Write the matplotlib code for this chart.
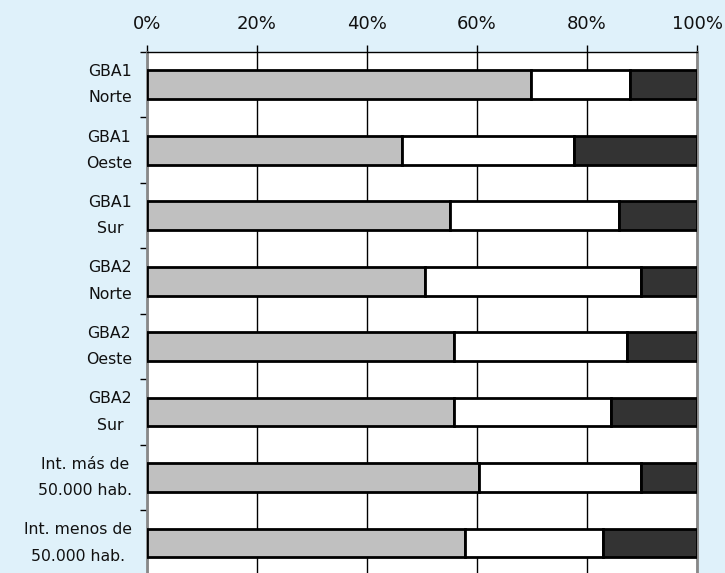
#!/usr/bin/env python3
"""Barras apiladas al 100% por región (réplica del gráfico de referencia)."""
import matplotlib
matplotlib.use("Agg")
import matplotlib.pyplot as plt
import numpy as np

# Datos (porcentajes por segmento)
categorias = [
    "GBA1\nNorte",
    "GBA1\nOeste",
    "GBA1\nSur",
    "GBA2\nNorte",
    "GBA2\nOeste",
    "GBA2\nSur",
    "Int. más de\n50.000 hab.",
    "Int. menos de\n50.000 hab.",
]
gris = [69.8, 46.3, 55.0, 50.5, 55.9, 55.9, 60.3, 57.8]
blanco = [18.0, 31.4, 30.9, 39.4, 31.4, 28.5, 29.6, 25.1]
oscuro = [12.2, 22.3, 14.1, 10.1, 12.7, 15.6, 10.1, 17.1]
ticks_x = [0, 20, 40, 60, 80, 100]

FONDO = "#dff1fa"

fig = plt.figure(figsize=(7.25, 5.73), dpi=100, facecolor=FONDO)
ax = fig.add_axes([0.2028, -0.0048, 0.7586, 0.914])
ax.set_facecolor("white")

y = np.arange(len(categorias))
alto = 0.44
izq = np.zeros(len(categorias))
for vals, color in [(gris, "#c0c0c0"), (blanco, "white"), (oscuro, "#333333")]:
    ax.barh(y, vals, left=izq, height=alto, color=color,
            edgecolor="black", linewidth=2.0, zorder=3)
    izq = izq + np.array(vals)

ax.set_xlim(0, 100)
ax.set_ylim(len(categorias) - 0.5, -0.5)

# Eje X arriba
ax.xaxis.tick_top()
ax.set_xticks(ticks_x)
ax.set_xticklabels([f"{t}%" for t in ticks_x], fontsize=13, color="#111111")
ax.tick_params(axis="x", direction="out", length=5, width=1, pad=9, color="black")

# Eje Y: etiquetas centradas, marcas en los límites de cada banda
ax.set_yticks(y)
ax.set_yticklabels(categorias, fontsize=11.3, color="#111111", va="center",
                   multialignment="center", linespacing=1.95)
ax.tick_params(axis="y", which="major", length=0, pad=11)
ax.set_yticks(np.arange(len(categorias) + 1) - 0.5, minor=True)
ax.tick_params(axis="y", which="minor", length=5, width=1, color="black")

ax.grid(axis="x", color="black", linewidth=1, zorder=0)
ax.set_axisbelow(True)

ax.spines["top"].set_color("black")
ax.spines["top"].set_linewidth(1)
ax.spines["bottom"].set_visible(False)
for lado in ("left", "right"):
    ax.spines[lado].set_color("#888888")
    ax.spines[lado].set_linewidth(2)

fig.savefig("out.png", dpi=100, facecolor=FONDO)
